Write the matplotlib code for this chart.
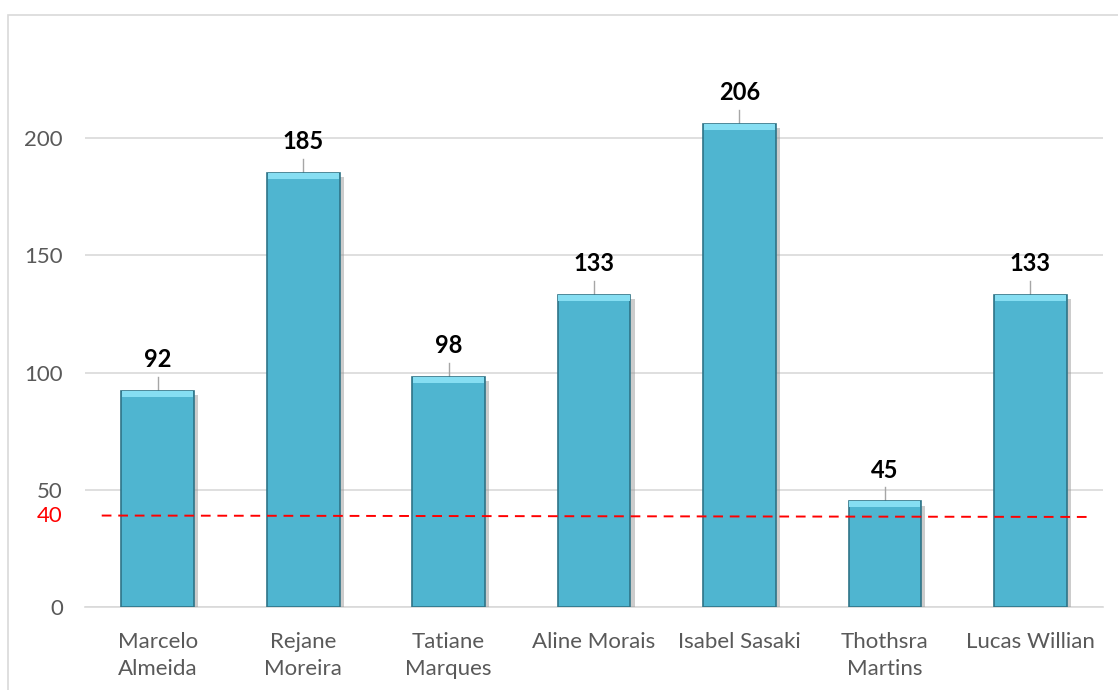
import matplotlib.pyplot as plt
import matplotlib.patheffects as pe
from matplotlib.patches import Rectangle

plt.rcParams['font.family'] = ['Lato', 'DejaVu Sans']

# dados
nomes = ['Marcelo\nAlmeida', 'Rejane\nMoreira', 'Tatiane\nMarques', 'Aline Morais',
         'Isabel Sasaki', 'Thothsra\nMartins', 'Lucas Willian']
valores = [92, 185, 98, 133, 206, 45, 133]
meta = 40
meta_linha = 39  # posição desenhada da linha de meta
yticks = [0, 50, 100, 150, 200]

fig = plt.figure(figsize=(11.18, 6.9), dpi=100)
# moldura externa
fig.patches.append(Rectangle((8 / 1118, -0.1), 1.2, 1.1 - 15 / 690, transform=fig.transFigure,
                             fill=False, edgecolor='#D9D9D9', linewidth=1.2))

ax = fig.add_axes([85 / 1118, 1 - 607 / 690, (1103 - 85) / 1118, (607 - 40) / 690])
x = list(range(len(nomes)))

barras = ax.bar(x, valores, width=0.5, color='#4FB5D0', edgecolor='#2F7487', linewidth=1.2,
                zorder=3)
for b in barras:
    b.set_path_effects([pe.SimplePatchShadow(offset=(3, -3), shadow_rgbFace='#9A9A9A', alpha=0.5),
                        pe.Normal()])
# bisel superior
ax.bar(x, [2.5] * len(x), bottom=[v - 2.5 for v in valores], width=0.49, color='#86DEF2',
       linewidth=0, zorder=4)

for xi, v in zip(x, valores):
    ax.plot([xi, xi], [v, v + 6], color='#A6A6A6', linewidth=1, zorder=2)
    ax.text(xi, v + 8.5, str(v), ha='center', va='bottom', fontsize=17, fontweight='bold',
            color='black', zorder=5)

ax.plot([-0.385, 6.40], [meta_linha, meta_linha - 0.6], color='#FF0000', linestyle=(0, (5, 3.5)),
        linewidth=1.4, zorder=6)
ax.text(-0.022, meta_linha, str(meta), color='#FF0000', fontsize=16, ha='right', va='center',
        transform=ax.get_yaxis_transform())

ax.set_xlim(-0.5, 6.5)
ax.set_ylim(0, 241.8)
ax.set_yticks(yticks)
ax.set_xticks(x)
ax.set_xticklabels(nomes, linespacing=1.45)
ax.tick_params(axis='both', length=0, labelsize=16, labelcolor='#595959')
ax.tick_params(axis='x', pad=18)
ax.tick_params(axis='y', pad=16)
ax.grid(axis='y', color='#D9D9D9', linewidth=1.2, zorder=0)
ax.set_axisbelow(True)
for s in ['top', 'right', 'left']:
    ax.spines[s].set_visible(False)
ax.spines['bottom'].set_color('#D9D9D9')
ax.spines['bottom'].set_linewidth(1.2)

fig.savefig('out.png', dpi=100)
